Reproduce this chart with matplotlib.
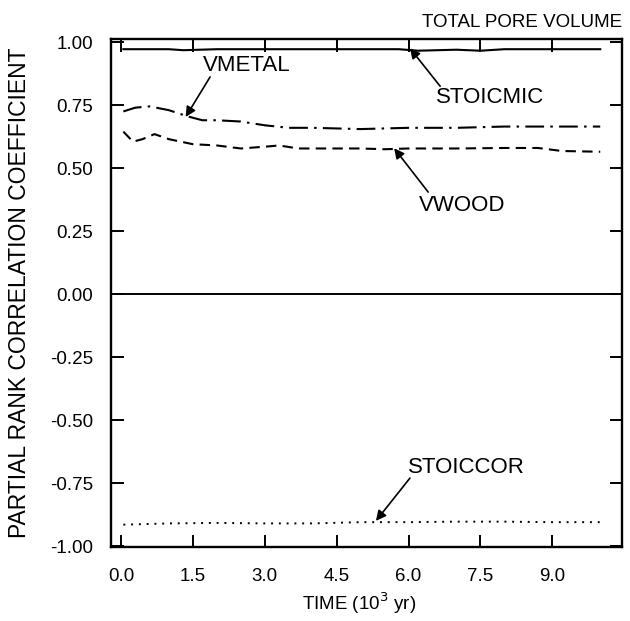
import matplotlib
matplotlib.use("Agg")
import matplotlib.pyplot as plt

plt.rcParams['font.family'] = ['Liberation Sans', 'DejaVu Sans']

# Partial rank correlation coefficients vs. time
t_stoicmic = [0.05, 1.0, 1.3, 2.0, 3.0, 4.0, 5.0, 5.8, 6.2, 6.6, 7.0, 7.5, 8.0, 9.0, 10.0]
stoicmic = [0.972, 0.972, 0.968, 0.972, 0.972, 0.972, 0.972, 0.972, 0.966, 0.968, 0.970, 0.966, 0.972, 0.972, 0.972]

t_vmetal = [0.05, 0.3, 0.6, 1.0, 1.4, 1.7, 2.0, 2.5, 3.0, 3.5, 4.0, 5.0, 6.0, 7.0, 8.0, 9.0, 10.0]
vmetal = [0.725, 0.740, 0.745, 0.730, 0.705, 0.690, 0.690, 0.685, 0.670, 0.660, 0.660, 0.655, 0.660, 0.660, 0.665, 0.665, 0.665]

t_vwood = [0.05, 0.25, 0.45, 0.7, 1.0, 1.5, 2.0, 2.5, 3.0, 3.3, 3.7, 4.0, 5.0, 5.5, 6.0, 7.0, 8.0, 8.7, 9.2, 10.0]
vwood = [0.645, 0.605, 0.615, 0.635, 0.615, 0.595, 0.590, 0.578, 0.585, 0.590, 0.578, 0.578, 0.578, 0.575, 0.578, 0.578, 0.580, 0.580, 0.568, 0.565]

t_stoiccor = [0.05, 1.0, 2.0, 3.0, 4.0, 5.0, 6.0, 7.0, 8.0, 9.0, 10.0]
stoiccor = [-0.915, -0.910, -0.908, -0.910, -0.910, -0.905, -0.905, -0.903, -0.903, -0.905, -0.905]

x_ticks = [0.0, 1.5, 3.0, 4.5, 6.0, 7.5, 9.0]
y_ticks = [1.00, 0.75, 0.50, 0.25, 0.00, -0.25, -0.50, -0.75, -1.00]

fig = plt.figure(figsize=(6.3, 6.21), dpi=100)
ax = fig.add_axes([0.176, 0.119, 0.811, 0.818])

lw = 1.5
ax.plot(t_stoicmic, stoicmic, color='black', lw=lw, ls='-')
ax.plot(t_vmetal, vmetal, color='black', lw=lw, ls=(0, (9, 3, 1.2, 3)))
ax.plot(t_vwood, vwood, color='black', lw=lw, ls=(0, (5, 3)))
ax.plot(t_stoiccor, stoiccor, color='black', lw=1.4, ls=(0, (1, 3)))
ax.axhline(0.0, color='black', lw=1.4)

ax.set_xlim(-0.21, 10.45)
ax.set_ylim(-1.004, 1.012)
ax.set_xticks(x_ticks)
ax.set_xticklabels([f"{v:.1f}" for v in x_ticks])
ax.set_yticks(y_ticks)
ax.set_yticklabels([f"{v:.2f}" for v in y_ticks])
ax.tick_params(direction='in', length=9, width=1.4, top=True, right=True,
               labelsize=13.5, colors='black')
ax.tick_params(axis='x', pad=15)
ax.tick_params(axis='y', pad=13)
for s in ax.spines.values():
    s.set_linewidth(1.7)

ax.set_xlabel("TIME (10$^3$ yr)", fontsize=13.5, va='center')
ax.xaxis.set_label_coords(0.485, -0.110)
ax.set_ylabel("PARTIAL RANK CORRELATION COEFFICIENT", fontsize=16.5, va='center')
ax.yaxis.set_label_coords(-0.178, 0.5)
ax.set_title("TOTAL PORE VOLUME", fontsize=13.5, loc='right', pad=9)

arrow = dict(arrowstyle='-|>', color='black', lw=1.2, mutation_scale=15, shrinkA=0, shrinkB=0)
labels = [
    ("VMETAL", (1.35, 0.703), (2.63, 0.909), (1.86, 0.862)),
    ("STOICMIC", (6.03, 0.976), (7.70, 0.78), (6.66, 0.825)),
    ("VWOOD", (5.70, 0.579), (7.12, 0.353), (6.41, 0.405)),
    ("STOICCOR", (5.32, -0.90), (7.20, -0.687), (6.03, -0.73)),
]
for name, head, txt, tail in labels:
    ax.annotate("", xy=head, xytext=tail, arrowprops=arrow)
    ax.text(txt[0], txt[1], name, fontsize=16, ha='center', va='center')

fig.savefig("out.png", dpi=100)
